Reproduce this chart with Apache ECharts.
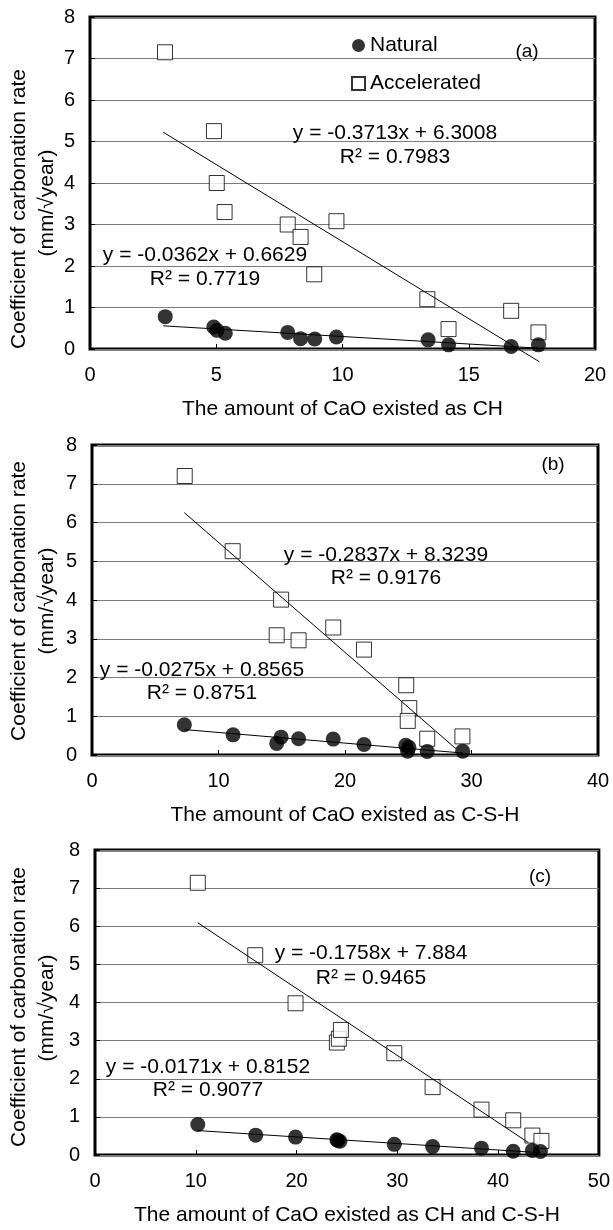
<!DOCTYPE html>
<html>
<head>
<meta charset="utf-8">
<script src="https://cdn.jsdelivr.net/npm/echarts@6/dist/echarts.min.js"></script>
<style>
  html, body { margin: 0; padding: 0; background: #fff; }
  #chart { width: 613px; height: 1230px; }
</style>
</head>
<body>
<div id="chart"></div>
<script>
// (a) CaO as CH
const naturalA = [[2.98, 0.78], [4.9, 0.53], [5.03, 0.45], [5.36, 0.38], [7.83, 0.4], [8.34, 0.25],
  [8.9, 0.24], [9.76, 0.29], [13.39, 0.22], [14.2, 0.1], [16.68, 0.06], [17.76, 0.1]];
const accelA = [[2.97, 7.15], [4.91, 5.25], [5.02, 4.0], [5.33, 3.3], [7.83, 3.0], [8.34, 2.7],
  [9.76, 3.08], [8.88, 1.8], [13.36, 1.2], [14.2, 0.48], [16.68, 0.92], [17.76, 0.4]];
const natTrendA = [[2.9, 0.558], [17.7, 0.022]];
const accTrendA = [[2.9, 5.224], [17.8, -0.308]];

// (b) CaO as C-S-H
const naturalB = [[7.3, 0.78], [11.15, 0.52], [14.6, 0.3], [14.95, 0.46], [16.33, 0.42], [19.07, 0.41],
  [21.5, 0.27], [24.8, 0.25], [25.05, 0.2], [24.95, 0.1], [26.5, 0.09], [29.3, 0.1]];
const accelB = [[7.33, 7.2], [11.12, 5.26], [14.95, 4.01], [14.6, 3.09], [16.33, 2.96], [19.07, 3.29],
  [21.5, 2.72], [24.84, 1.8], [25.08, 1.21], [24.96, 0.88], [26.5, 0.42], [29.28, 0.48]];
const natTrendB = [[7.3, 0.656], [29.3, 0.051]];
const accTrendB = [[7.3, 6.253], [28.8, 0.153]];

// (c) CaO as CH and C-S-H
const naturalC = [[10.2, 0.8], [15.95, 0.52], [19.9, 0.47], [24.0, 0.4], [24.1, 0.38], [24.3, 0.36],
  [29.7, 0.28], [33.5, 0.22], [38.35, 0.18], [41.5, 0.1], [43.4, 0.12], [44.2, 0.09]];
const accelC = [[10.2, 7.14], [15.9, 5.24], [19.9, 3.98], [24.0, 2.95], [24.2, 3.05], [24.4, 3.28],
  [29.7, 2.67], [33.5, 1.78], [38.35, 1.19], [41.5, 0.91], [43.4, 0.51], [44.3, 0.37]];
const natTrendC = [[10.2, 0.641], [44.2, 0.059]];
const accTrendC = [[10.2, 6.091], [43.0, 0.325]];

const xMaxes = [20, 40, 50];
const xSteps = [5, 10, 10];
const xTitles = ['The amount of CaO existed as CH', 'The amount of CaO existed as C-S-H',
  'The amount of CaO existed as CH and C-S-H'];
const eqAcc = [['y = -0.3713x + 6.3008', 'R² = 0.7983'], ['y = -0.2837x + 8.3239', 'R² = 0.9176'],
  ['y = -0.1758x + 7.884', 'R² = 0.9465']];
const eqNat = [['y = -0.0362x + 0.6629', 'R² = 0.7719'], ['y = -0.0275x + 0.8565', 'R² = 0.8751'],
  ['y = -0.0171x + 0.8152', 'R² = 0.9077']];
const panelLabels = ['(a)', '(b)', '(c)'];

const FONT = 'Liberation Sans, Arial, sans-serif';

const grids = [
  { left: 90, top: 17, width: 505, height: 332 },
  { left: 92, top: 445, width: 506, height: 310 },
  { left: 95, top: 850, width: 505, height: 305 },
];

// text positions (pixels)
const accEqPos = [[395, 133, 157], [386, 555, 578], [371, 953, 978]];
const natEqPos = [[205, 255, 279], [202, 670, 693], [208, 1067, 1090]];
const labelPos = [[527, 52], [553, 465], [540, 877]];
const yTitlePos = [[209, 203], [601, 601], [1007, 1008]];

const chart = echarts.init(document.getElementById('chart'));

const naturals = [naturalA, naturalB, naturalC];
const accels = [accelA, accelB, accelC];
const natTrends = [natTrendA, natTrendB, natTrendC];
const accTrends = [accTrendA, accTrendB, accTrendC];

const xAxis = [];
const yAxis = [];
const series = [];
const graphic = [];

function txt(x, y, text, size, rot) {
  return {
    type: 'text', x: x, y: y, rotation: rot || 0, z: 100,
    style: { text: text, font: size + 'px ' + FONT, fill: '#000', textAlign: 'center', textVerticalAlign: 'middle' },
  };
}

grids.forEach((g, i) => {
  g.show = true;
  g.borderColor = '#000';
  g.borderWidth = 3;
  g.containLabel = false;
  xAxis.push({
    gridIndex: i, type: 'value', min: 0, max: xMaxes[i], interval: xSteps[i],
    name: xTitles[i], nameLocation: 'middle', nameGap: 50,
    nameTextStyle: { fontSize: 21, color: '#000', fontFamily: FONT },
    axisLine: { show: false },
    axisTick: { show: true, inside: true, length: 5, lineStyle: { color: '#000' } },
    axisLabel: { fontSize: 20, color: '#000', margin: 16, fontFamily: FONT },
    splitLine: { show: false },
  });
  yAxis.push({
    gridIndex: i, type: 'value', min: 0, max: 8, interval: 1,
    axisLine: { show: false },
    axisTick: { show: true, inside: true, length: 5, lineStyle: { color: '#000' } },
    axisLabel: { fontSize: 20, color: '#000', margin: 15, fontFamily: FONT },
    splitLine: { show: true, lineStyle: { color: '#7a7a7a', width: 1 } },
  });
  series.push({
    name: 'Accelerated', type: 'scatter', xAxisIndex: i, yAxisIndex: i, clip: false,
    symbol: 'rect', symbolSize: 15, z: 2,
    itemStyle: { color: '#fff', borderColor: '#000', borderWidth: 1 },
    data: accels[i],
  });
  series.push({
    name: 'Natural', type: 'scatter', xAxisIndex: i, yAxisIndex: i, clip: false,
    symbol: 'circle', symbolSize: 15, z: 3,
    itemStyle: { color: '#000' },
    data: naturals[i],
  });
  [accTrends[i], natTrends[i]].forEach((t) => {
    series.push({
      type: 'line', xAxisIndex: i, yAxisIndex: i, clip: false, showSymbol: false, symbol: 'none',
      silent: true, z: 4, lineStyle: { color: '#000', width: 1 }, data: t,
    });
  });
  graphic.push(txt(accEqPos[i][0], accEqPos[i][1], eqAcc[i][0], 21));
  graphic.push(txt(accEqPos[i][0], accEqPos[i][2], eqAcc[i][1], 21));
  graphic.push(txt(natEqPos[i][0], natEqPos[i][1], eqNat[i][0], 21));
  graphic.push(txt(natEqPos[i][0], natEqPos[i][2], eqNat[i][1], 21));
  graphic.push(txt(labelPos[i][0], labelPos[i][1], panelLabels[i], 19));
  graphic.push(txt(19, yTitlePos[i][0], 'Coefficient of carbonation rate', 21, Math.PI / 2));
  graphic.push(txt(47, yTitlePos[i][1], '(mm/√year)', 21, Math.PI / 2));
});

chart.setOption({
  animation: false,
  backgroundColor: '#fff',
  grid: grids,
  xAxis: xAxis,
  yAxis: yAxis,
  legend: {
    data: ['Natural', 'Accelerated'],
    orient: 'vertical', left: 351, top: 35, itemGap: 17, padding: 0,
    itemWidth: 13, itemHeight: 13,
    textStyle: { fontSize: 21, color: '#000', fontFamily: FONT },
  },
  graphic: graphic,
  series: series,
});
</script>
</body>
</html>
